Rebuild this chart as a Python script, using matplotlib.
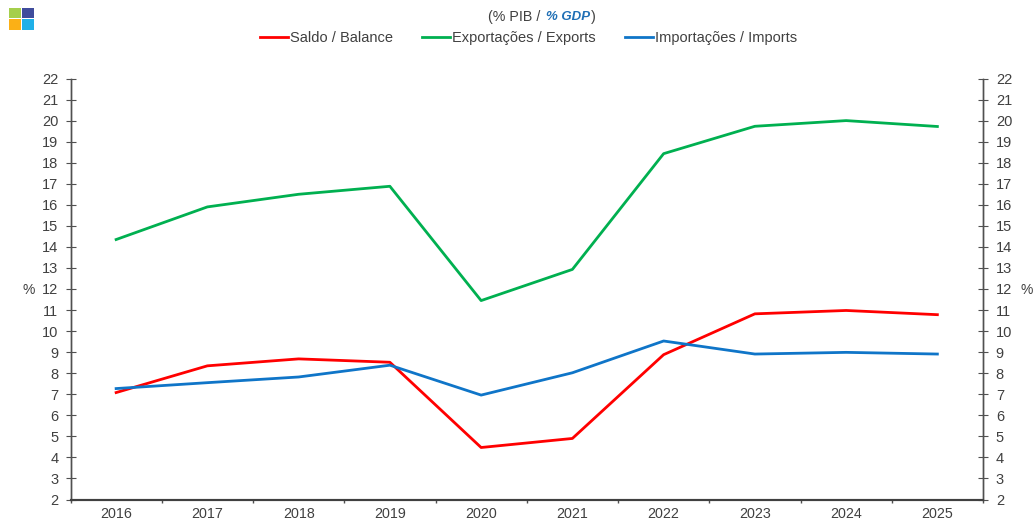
# Saldo, exportações e importações (% PIB)
import matplotlib
matplotlib.use('Agg')
import matplotlib.pyplot as plt
from matplotlib.patches import Rectangle

plt.rcParams['font.family'] = ['Liberation Sans', 'DejaVu Sans']

# dados
anos = ['2016', '2017', '2018', '2019', '2020', '2021', '2022', '2023', '2024', '2025']
saldo = [7.08, 8.35, 8.68, 8.52, 4.47, 4.90, 8.88, 10.82, 10.98, 10.78]
exportacoes = [14.35, 15.90, 16.50, 16.88, 11.45, 12.93, 18.43, 19.73, 20.00, 19.72]
importacoes = [7.27, 7.55, 7.82, 8.38, 6.96, 8.02, 9.53, 8.91, 8.99, 8.91]
y_ticks = list(range(2, 23))

W, H = 1035, 524
cor_texto = '#404040'
cor_eixo = '#505050'

fig = plt.figure(figsize=(W / 100, H / 100), dpi=100)
ax = fig.add_axes([70.5 / W, 1 - 499.5 / H, (983 - 70.5) / W, (499.5 - 78.5) / H])

x = list(range(len(anos)))
ax.plot(x, saldo, color='#FF0000', lw=2.0, label='Saldo / Balance', solid_joinstyle='round')
ax.plot(x, exportacoes, color='#00B050', lw=2.0, label='Exportações / Exports', solid_joinstyle='round')
ax.plot(x, importacoes, color='#0F75C8', lw=2.0, label='Importações / Imports', solid_joinstyle='round')

ax.set_xlim(-0.5, len(anos) - 0.5)
ax.set_ylim(2, 22)
ax.set_yticks(y_ticks)

# marcas do eixo x ficam entre as categorias
ax.set_xticks([i - 0.5 for i in range(len(anos) + 1)])
ax.set_xticklabels([])
ax.set_xticks(x, minor=True)
ax.set_xticklabels(anos, minor=True)
ax.tick_params(axis='x', which='major', direction='out', length=2.5, width=1, color=cor_eixo)
ax.tick_params(axis='x', which='minor', length=0, pad=5.5, labelsize=10.3, labelcolor=cor_texto)
ax.tick_params(axis='y', direction='inout', length=6.5, width=0.8, color=cor_eixo,
               pad=5.5, labelsize=10.5, labelcolor=cor_texto)

ax2 = ax.twinx()
ax2.set_ylim(2, 22)
ax2.set_yticks(y_ticks)
ax2.tick_params(axis='y', direction='inout', length=6.5, width=0.8, color=cor_eixo,
                pad=6, labelsize=10.5, labelcolor=cor_texto)

for a in (ax, ax2):
    a.spines['top'].set_visible(False)
    for lado in ('left', 'right'):
        a.spines[lado].set_color(cor_eixo)
        a.spines[lado].set_linewidth(1)
    a.spines['bottom'].set_color('#404040')
    a.spines['bottom'].set_linewidth(1.5)

fig.text(28.5 / W, 1 - 290 / H, '%', ha='center', va='center', fontsize=10, color=cor_texto)
fig.text(1027 / W, 1 - 290 / H, '%', ha='center', va='center', fontsize=10, color=cor_texto)

# subtítulo em duas cores
fig.text(488 / W, 1 - 17.5 / H, '(% PIB /', ha='left', va='center', fontsize=10.3, color=cor_texto)
fig.text(546 / W, 1 - 17.5 / H, '% GDP', ha='left', va='center', fontsize=9.5, color='#1F6FB5',
         fontweight='bold', fontstyle='italic')
fig.text(591 / W, 1 - 17.5 / H, ')', ha='left', va='center', fontsize=10.3, color=cor_texto)

fig.legend(loc='center', bbox_to_anchor=(528.5 / W, 1 - 38 / H), ncol=3, frameon=False,
           fontsize=10.5, labelcolor=cor_texto, handlelength=1.92, handletextpad=0.15,
           columnspacing=2.0, borderpad=0)

# logótipo
logo = [(9, 8, 12, 10, '#A5CF4C'), (22, 8, 12, 10, '#3F4C9C'),
        (9, 19, 12, 11, '#FBB016'), (22, 19, 12, 11, '#1FB0E8')]
for lx, ly, lw_, lh, cor in logo:
    fig.add_artist(Rectangle((lx / W, 1 - (ly + lh) / H), lw_ / W, lh / H,
                             transform=fig.transFigure, facecolor=cor, edgecolor='none'))

fig.savefig('out.png', dpi=100)
